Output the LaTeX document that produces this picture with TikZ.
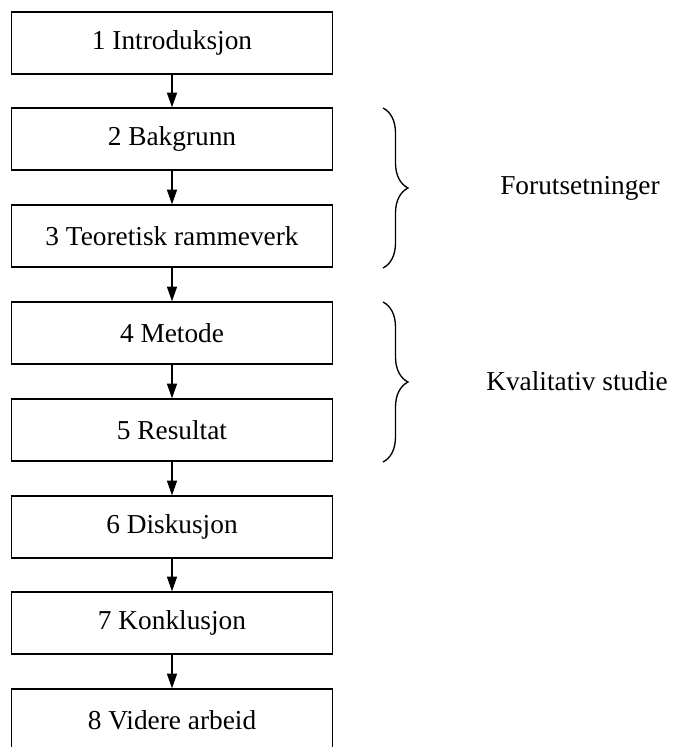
\documentclass[tikz,border=0pt]{standalone}
\usepackage{fontspec}
\setmainfont{Liberation Serif}
\usetikzlibrary{arrows.meta,decorations.pathreplacing}
\begin{document}
\begin{tikzpicture}[x=0.75pt,y=-0.75pt,
  chapter/.style={draw,line width=1pt,rectangle,minimum width=240.75pt,minimum height=46.5pt,
    inner sep=0pt,font=\fontsize{20.5}{24}\selectfont},
  flow/.style={line width=1pt,-{Triangle[length=11pt,width=7.5pt]}},
  groupbrace/.style={line width=1pt,decorate,decoration={brace,amplitude=18.75pt}},
  grouplabel/.style={font=\fontsize{20.5}{24}\selectfont}]
\useasboundingbox (0,0) rectangle (674,747);
\node[chapter] (c1) at (172,43) {1 Introduksjon};
\node[chapter] (c2) at (172,139) {2 Bakgrunn};
\node[chapter] (c3) at (172,236) {3 Teoretisk rammeverk};
\node[chapter] (c4) at (172,333) {4 Metode};
\node[chapter] (c5) at (172,430) {5 Resultat};
\node[chapter] (c6) at (172,527) {6 Diskusjon};
\node[chapter] (c7) at (172,623) {7 Konklusjon};
\node[chapter] (c8) at (172,720) {8 Videre arbeid};
\foreach \a/\b in {c1/c2,c2/c3,c3/c4,c4/c5,c5/c6,c6/c7,c7/c8}
  \draw[flow] (\a) -- (\b);
\coordinate (b1t) at (383,108);
\coordinate (b1b) at (383,268);
\coordinate (b2t) at (383,302);
\coordinate (b2b) at (383,462);
\draw[groupbrace] (b1t) -- (b1b);
\draw[groupbrace] (b2t) -- (b2b);
\node[grouplabel] (g1) at (580,188) {Forutsetninger};
\node[grouplabel] (g2) at (577,381) {Kvalitativ studie};
\end{tikzpicture}
\end{document}
